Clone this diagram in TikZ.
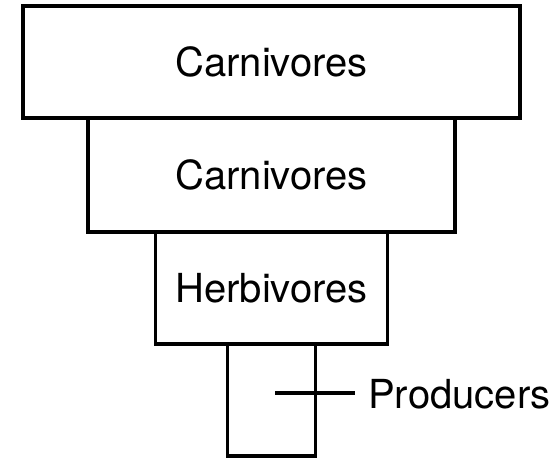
\documentclass[tikz,border=0pt]{standalone}
\usepackage{fontspec}
\setmainfont{TeX Gyre Heros}
\begin{document}
\begin{tikzpicture}[x=1pt,y=-1pt,
  level/.style={draw=black, line width=3.3pt, fill=white, inner sep=0pt,
    font=\fontsize{40}{47}\selectfont},
  lbl/.style={inner xsep=13pt, inner ysep=0pt, anchor=west,
    font=\fontsize{40}{47}\selectfont}]
\useasboundingbox (0,0) rectangle (557,458);
\node[level, minimum width=367pt, minimum height=114pt] (c1) at (271.5,175) {Carnivores};
\node[level, minimum width=497pt, minimum height=112pt] (c2) at (271.5,62) {Carnivores};
\node[level, minimum width=232pt, minimum height=112pt] (h) at (271.5,288) {Herbivores};
\node[level, minimum width=88pt, minimum height=112pt] (p) at (271.5,400) {};
\coordinate (pl) at (275,393);
\node[lbl] (prod) at (355,394) {Producers};
\draw[line width=3.3pt] (pl) -- (prod.west |- pl);
\end{tikzpicture}
\end{document}
